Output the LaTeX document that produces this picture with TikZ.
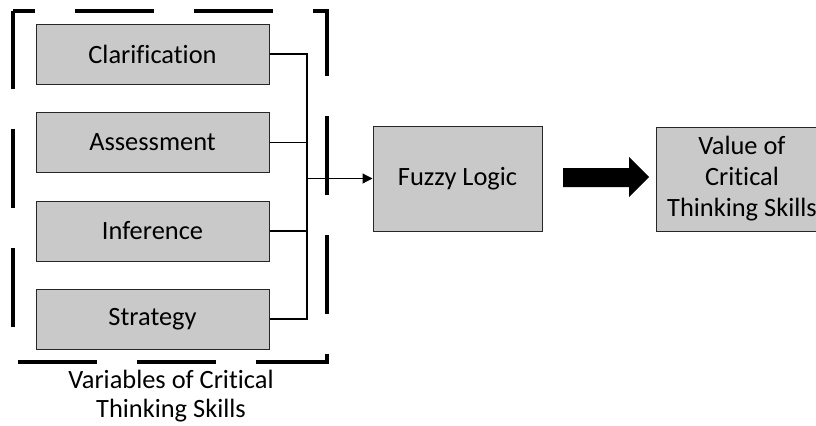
\documentclass[tikz,border=0pt]{standalone}
\usepackage{fontspec}
\setmainfont{Carlito}[Ligatures=NoCommon]
\usetikzlibrary{arrows.meta}
\begin{document}
\begin{tikzpicture}[x=0.75pt,y=-0.75pt,
  varbox/.style={draw=black!85,line width=0.75pt,fill=gray!42,minimum width=174.75pt,minimum height=45pt,inner sep=0pt,font=\fontsize{19.8}{23.5}\selectfont},
  bigbox/.style={draw=black!85,line width=0.75pt,fill=gray!42,inner sep=0pt,align=center,font=\fontsize{19.8}{23.3}\selectfont},
  conn/.style={line width=0.9pt,draw=black}]
\useasboundingbox (0,0) rectangle (816,425);
\clip (0,0) rectangle (816,425);
% dashed group frame
\draw[line width=3.4pt,dash pattern=on 59.25pt off 30pt,dash phase=42.75pt]
  (13,11) -- (327,11) -- (327,362) -- (13,362) -- cycle;
% variable boxes
\node[varbox] (c1) at (152.5,54) {Clarification};
\node[varbox] (c2) at (152.5,142.5) {Assessment};
\node[varbox] (c3) at (152.5,231) {Inference};
\node[varbox] (c4) at (152.5,319) {Strategy};
\node[font=\fontsize{19.8}{21.5}\selectfont,align=center,inner sep=0pt,anchor=north] (lab) at (171,370) {Variables of Critical\\Thinking Skills};
% fuzzy and output
\node[bigbox,minimum width=126.75pt,minimum height=78.75pt] (fz) at (457.5,178.5) {Fuzzy Logic};
\node[bigbox,minimum width=129pt,minimum height=78pt] (val) at (742,179) {Value of\\Critical\\Thinking Skills};
% bus connectors
\coordinate (bus) at (307,0);
\draw[conn] (c1.east) -| (bus |- c4.east) -- (c4.east);
\draw[conn] (c2.east) -- (bus |- c2.east);
\draw[conn] (c3.east) -- (bus |- c3.east);
\draw[conn,-{Triangle[length=7.5pt,width=7.5pt]}] (bus |- fz.west) -- (fz.west);
% block arrow
\fill[black] (563,168) -- (629,168) -- (629,157) -- (649,177) -- (629,197) -- (629,187) -- (563,187) -- cycle;
\end{tikzpicture}
\end{document}
